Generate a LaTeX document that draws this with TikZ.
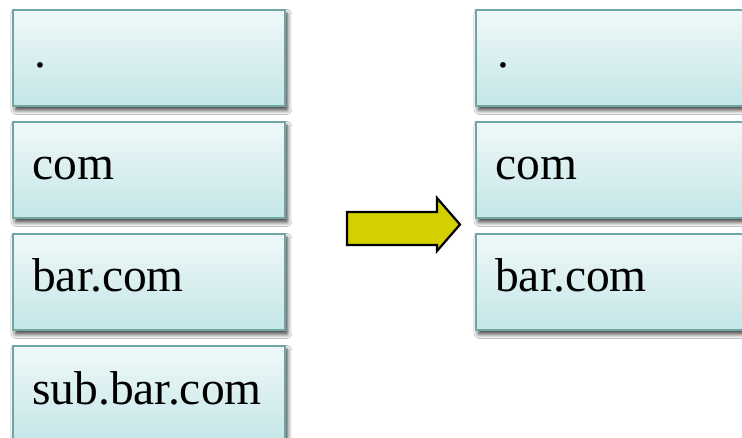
\documentclass[tikz,border=0pt]{standalone}
\usepackage{fontspec}
\setmainfont{Liberation Serif}
\usetikzlibrary{shadows.blur}
\definecolor{boxtop}{RGB}{240,248,249}
\definecolor{boxbot}{RGB}{196,230,231}
\definecolor{boxline}{RGB}{110,166,166}
\definecolor{arrowfill}{RGB}{212,207,0}
\tikzset{
  zone/.style={draw=boxline, line width=1.8pt, top color=boxtop, bottom color=boxbot,
    minimum width=272pt, minimum height=96pt, inner sep=0pt, anchor=north west,
    blur shadow={shadow xshift=2.5pt, shadow yshift=-4pt, shadow blur radius=4.5pt, shadow opacity=80}},
  zonelabel/.style={anchor=base west, inner sep=0pt, font=\fontsize{47.5}{56}\selectfont}
}
\begin{document}
\begin{tikzpicture}[x=1pt,y=-1pt]
  \useasboundingbox (0,0) rectangle (742,438);
  \clip (0,0) rectangle (742,438);
  \fill[white] (0,0) rectangle (742,438);
  % left stack of zones
  \node[zone] (l1) at (12,9) {};
  \node[zone] (l2) at (12,121) {};
  \node[zone] (l3) at (12,233) {};
  \node[zone] (l4) at (12,345) {};
  \node[zonelabel] (t1) at ([xshift=22pt,yshift=-59pt]l1.north west) {.};
  \node[zonelabel] (t2) at ([xshift=20pt,yshift=-59pt]l2.north west) {com};
  \node[zonelabel] (t3) at ([xshift=20pt,yshift=-59pt]l3.north west) {bar.com};
  \node[zonelabel] (t4) at ([xshift=20pt,yshift=-59pt]l4.north west) {sub.bar.com};
  % right stack of zones
  \node[zone] (r1) at (475,9) {};
  \node[zone] (r2) at (475,121) {};
  \node[zone] (r3) at (475,233) {};
  \node[zonelabel] (u1) at ([xshift=22pt,yshift=-59pt]r1.north west) {.};
  \node[zonelabel] (u2) at ([xshift=20pt,yshift=-59pt]r2.north west) {com};
  \node[zonelabel] (u3) at ([xshift=20pt,yshift=-59pt]r3.north west) {bar.com};
  % block arrow between the stacks
  \draw[fill=arrowfill, line width=2.2pt, line join=miter]
    (347,212) -- (437,212) -- (437,198) -- (460,224.5) -- (437,251) -- (437,245) -- (347,245) -- cycle;
\end{tikzpicture}
\end{document}
